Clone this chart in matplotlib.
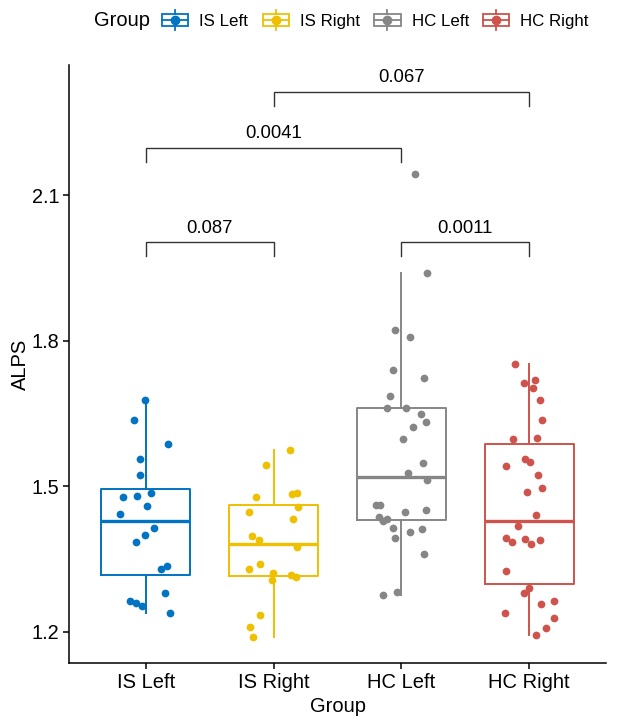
import numpy as np
import matplotlib.pyplot as plt
from matplotlib.legend_handler import HandlerBase
from matplotlib.lines import Line2D
from matplotlib.patches import Rectangle

plt.rcParams['font.family'] = ['Liberation Sans', 'DejaVu Sans']

groups = ["IS Left", "IS Right", "HC Left", "HC Right"]
colors = ["#0073C2", "#EFC000", "#868686", "#CD534C"]

# ALPS values, with the horizontal jitter of each dot
is_left = [1.678, 1.637, 1.586, 1.556, 1.522, 1.478, 1.480, 1.486, 1.460, 1.443,
           1.413, 1.400, 1.384, 1.329, 1.335, 1.279, 1.264, 1.259, 1.253, 1.239]
is_left_jitter = [-0.002, -0.094, 0.178, -0.045, -0.045, -0.180, -0.068, 0.039, 0.010, -0.201,
                  0.065, -0.005, -0.076, 0.120, 0.164, 0.151, -0.120, -0.073, -0.029, 0.190]

is_right = [1.574, 1.544, 1.478, 1.483, 1.485, 1.456, 1.447, 1.432, 1.397, 1.389,
            1.374, 1.340, 1.329, 1.320, 1.307, 1.317, 1.312, 1.235, 1.210, 1.190]
is_right_jitter = [0.125, -0.060, -0.136, 0.146, 0.182, 0.188, -0.193, 0.153, -0.168, -0.113,
                   0.182, -0.105, -0.193, -0.008, -0.011, 0.135, 0.175, -0.107, -0.183, -0.162]

hc_left = [2.144, 1.940, 1.822, 1.807, 1.740, 1.723, 1.685, 1.662, 1.661, 1.648,
           1.632, 1.621, 1.598, 1.548, 1.527, 1.512, 1.462, 1.462, 1.447, 1.450,
           1.437, 1.428, 1.433, 1.414, 1.394, 1.406, 1.412, 1.360, 1.275, 1.281]
hc_left_jitter = [0.107, 0.200, -0.052, 0.065, -0.063, 0.175, -0.089, -0.110, 0.038, 0.153,
                  0.193, 0.088, 0.010, 0.167, 0.054, 0.200, -0.199, -0.168, 0.031, 0.190,
                  -0.173, -0.146, -0.110, -0.063, -0.048, 0.067, 0.159, 0.175, -0.146, -0.032]

hc_right = [1.751, 1.712, 1.719, 1.702, 1.678, 1.636, 1.597, 1.600, 1.556, 1.550,
            1.542, 1.524, 1.497, 1.487, 1.441, 1.417, 1.393, 1.384, 1.391, 1.381,
            1.389, 1.325, 1.290, 1.279, 1.257, 1.264, 1.238, 1.228, 1.207, 1.193]
hc_right_jitter = [-0.108, -0.045, 0.044, 0.028, 0.080, 0.101, -0.124, 0.064, -0.032, 0.005,
                   -0.183, 0.067, 0.103, -0.016, 0.054, -0.092, -0.179, -0.139, -0.034, 0.017,
                   0.085, -0.181, -0.001, -0.038, 0.088, 0.195, -0.191, 0.190, 0.132, 0.049]

values = [is_left, is_right, hc_left, hc_right]
jitters = [is_left_jitter, is_right_jitter, hc_left_jitter, hc_right_jitter]

# pairwise comparisons
comparisons = [(0, 1), (2, 3), (0, 2), (1, 3)]
p_values = ["0.087", "0.0011", "0.0041", "0.067"]
bracket_y = [2.0025, 2.0025, 2.1975, 2.313]

y_ticks = [1.2, 1.5, 1.8, 2.1]


class BoxKeyHandler(HandlerBase):
    def create_artists(self, legend, orig_handle, xdescent, ydescent,
                       width, height, fontsize, trans):
        c = orig_handle.get_color()
        x0, y0 = -xdescent, -ydescent
        xm, ym = x0 + width / 2, y0 + height / 2
        lo, hi = y0 + 0.22 * height, y0 + 0.78 * height
        arts = [
            Rectangle((x0, lo), width, hi - lo, fill=False, edgecolor=c, lw=1.3, transform=trans),
            Line2D([x0, x0 + width], [ym, ym], color=c, lw=1.3, transform=trans),
            Line2D([xm, xm], [y0, lo], color=c, lw=1.3, transform=trans),
            Line2D([xm, xm], [hi, y0 + height], color=c, lw=1.3, transform=trans),
            Line2D([xm], [ym], marker='o', markersize=6, color=c, lw=0, transform=trans),
        ]
        return arts


fig = plt.figure(figsize=(6.24, 7.24), dpi=100)
ax = fig.add_axes([69 / 624, 1 - 663 / 724, (606 - 69) / 624, (663 - 65) / 724])

pos = np.arange(len(groups))
bp = ax.boxplot(values, positions=pos, widths=0.7, showfliers=False, showcaps=False,
                whis=1.5, patch_artist=False)
for i, c in enumerate(colors):
    bp['boxes'][i].set(color=c, lw=1.4)
    bp['medians'][i].set(color=c, lw=2.4)
    for w in bp['whiskers'][2 * i:2 * i + 2]:
        w.set(color=c, lw=1.4)

for i, c in enumerate(colors):
    ax.scatter(pos[i] + np.array(jitters[i]), values[i], s=31, color=c,
               linewidths=0, zorder=3)

tick = 0.029
for (a, b), p, y in zip(comparisons, p_values, bracket_y):
    ax.plot([a, a, b, b], [y - tick, y, y, y - tick], color='#333333', lw=1.0,
            solid_joinstyle='miter')
    ax.text((a + b) / 2, y + 0.012, p, ha='center', va='bottom', fontsize=13.3)

ax.set_xlim(-0.6, 3.6)
ax.set_ylim(1.1355, 2.368)
ax.set_xticks(pos)
ax.set_xticklabels(groups, fontsize=14.5)
ax.set_yticks(y_ticks)
ax.set_yticklabels([f"{t:.1f}" for t in y_ticks], fontsize=14.3)
ax.tick_params(length=4, width=1.1, color='black', pad=3)
ax.set_xlabel("Group", fontsize=14.5, labelpad=4)
ax.set_ylabel("ALPS", fontsize=14.5, labelpad=1)
for s in ['top', 'right']:
    ax.spines[s].set_visible(False)
for s in ['left', 'bottom']:
    ax.spines[s].set_linewidth(1.1)

handles = [Line2D([], [], color=c) for c in colors]
fig.text(94 / 624, 1 - 20 / 724, "Group", fontsize=14.5, ha='left', va='center')
fig.legend(handles, groups, handler_map={Line2D: BoxKeyHandler()},
           loc='center left', bbox_to_anchor=(162 / 624, 1 - 20 / 724), ncol=4,
           frameon=False, fontsize=12.2, borderpad=0, borderaxespad=0,
           handlelength=1.55, handleheight=1.5, handletextpad=0.65, columnspacing=0.85)

fig.savefig("out.png", dpi=100)
plt.close()
